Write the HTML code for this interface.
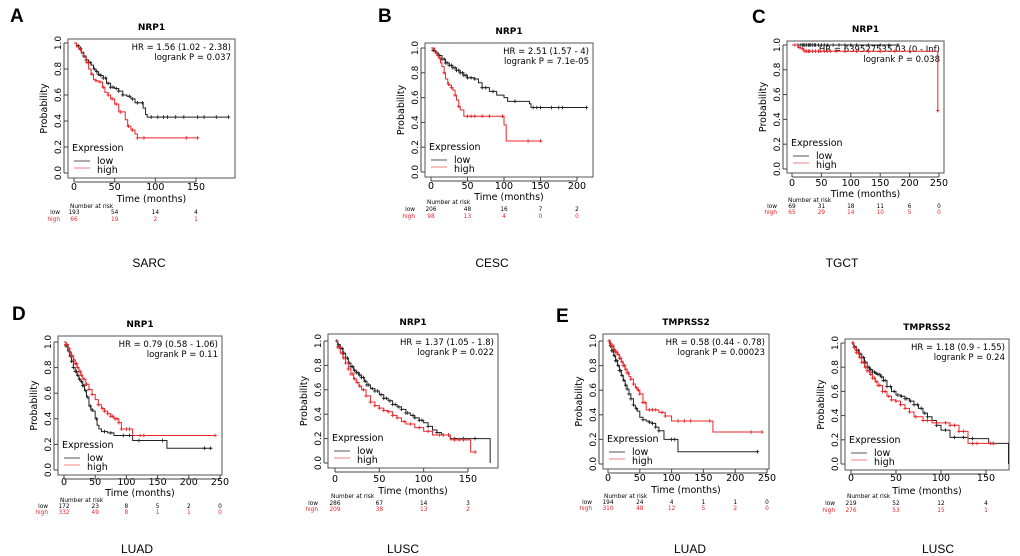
<!DOCTYPE html>
<html><head><meta charset="utf-8"><style>
html,body{margin:0;padding:0;background:#fff;}
svg{display:block;font-family:"DejaVu Sans","Liberation Sans",sans-serif;}
</style></head><body>
<svg id="fig" width="1020" height="556" viewBox="0 0 1020 556"></svg>
<script>
// ---- data ----
const xTicksA=[0,50,100,150], xTicksB=[0,50,100,150,200], xTicksC=[0,50,100,150,200,250];
const yTicks=[0,0.2,0.4,0.6,0.8,1.0];
// Panel A SARC
const aLowT=[0,3,6,9,12,15,18,21,24,27,30,33,36,40,45,50,55,60,65,70,75,80,85,88,90,190];
const aLowS=[1,.98,.96,.93,.9,.87,.85,.83,.8,.78,.76,.75,.73,.69,.66,.65,.63,.6,.59,.57,.54,.54,.5,.45,.43,.43];
const aLowC=[5,8,12,15,18,20,25,28,30,33,36,39,42,45,48,52,55,60,68,72,78,84,95,103,110,115,125,135,152,160,175,190];
const aHighT=[0,3,6,9,12,15,18,21,24,27,30,35,38,42,45,50,55,60,63,66,70,75,78,152];
const aHighS=[1,.97,.95,.92,.89,.85,.8,.76,.72,.71,.7,.66,.62,.6,.57,.53,.47,.47,.41,.36,.33,.3,.27,.27];
const aHighC=[8,16,22,27,32,36,42,47,52,57,67,72,78,86,138,152];
const aRiskLow=[193,54,14,4], aRiskHigh=[66,19,2,1];
// Panel B CESC
const bLowT=[0,3,6,10,15,20,25,30,35,40,45,50,55,60,65,70,80,90,100,105,120,135,137,213];
const bLowS=[1,.98,.96,.94,.91,.88,.86,.84,.82,.8,.78,.76,.76,.75,.72,.68,.65,.62,.6,.57,.57,.55,.52,.52];
const bLowC=[3,5,8,10,12,15,18,20,22,25,28,30,33,35,38,40,43,45,48,50,55,60,70,75,85,115,140,145,150,165,175,180,213];
const bHighT=[0,5,8,10,13,15,18,20,23,25,28,30,33,35,38,40,45,95,100,103,150];
const bHighS=[1,.97,.94,.92,.88,.85,.8,.75,.71,.7,.68,.66,.62,.58,.53,.5,.45,.45,.38,.25,.25];
const bHighC=[12,18,24,28,33,38,50,55,60,70,80,98,133,150];
const bRiskLow=[206,48,16,7,2], bRiskHigh=[98,13,4,0,0];
// Panel C TGCT
const cLowT=[0,180], cLowS=[1,1];
const cLowC=[10,15,18,20,22,25,28,30,32,35,38,40,45,50,55,60,70,80,90,100,110,130,150,165,180];
const cHighT=[0,10,15,20,232,248], cHighS=[1,.98,.97,.95,.95,.47];
const cHighC=[5,12,18,22,25,28,30,35,40,45,48,55,60,65,75,90,110,130,150,175,200,248];
const cRiskLow=[69,31,18,11,6,0], cRiskHigh=[65,29,14,10,5,0];
// Panel D NRP1 LUAD
const dLowT=[0,3,6,9,12,15,18,21,24,27,30,33,36,40,43,46,50,53,56,60,70,80,110,165,235];
const dLowS=[1,.97,.93,.89,.85,.8,.77,.74,.71,.69,.66,.62,.57,.5,.47,.46,.4,.35,.32,.3,.29,.27,.23,.17,.17];
const dLowC=[3,5,8,10,12,15,18,20,22,25,28,30,32,35,38,42,45,52,65,75,95,105,120,158,225,235];
const dHighT=[0,3,6,9,12,15,18,21,24,27,30,35,40,45,50,55,60,65,70,75,80,88,92,110,242];
const dHighS=[1,.98,.95,.92,.89,.86,.83,.8,.77,.74,.71,.67,.63,.59,.55,.51,.48,.46,.44,.42,.4,.37,.32,.27,.27];
const dHighC=[3,5,8,10,12,14,16,18,20,22,24,26,28,32,36,40,45,55,62,65,70,75,78,82,85,88,92,100,105,122,128,242];
const dRiskLow=[172,23,8,5,2,0], dRiskHigh=[332,49,8,1,1,0];
// Panel D NRP1 LUSC
const eLowT=[0,3,6,9,12,15,18,21,24,27,30,33,36,40,45,50,55,60,65,70,75,80,85,90,95,100,105,110,115,120,130,175];
const eLowS=[1,.97,.94,.9,.86,.82,.79,.76,.74,.72,.70,.67,.64,.61,.59,.56,.53,.51,.48,.46,.44,.41,.39,.37,.35,.33,.3,.27,.25,.23,.20,0];
const eLowC=[2,4,6,8,10,12,14,16,18,20,22,24,26,28,30,32,34,36,38,42,45,48,52,55,58,62,65,68,72,75,80,82,88,90,95,98,105,115,122,128,135,145,158];
const eHighT=[0,3,6,9,12,15,18,21,24,27,30,35,40,45,50,55,60,65,70,75,80,90,100,110,130,153,158];
const eHighS=[1,.95,.9,.86,.82,.77,.73,.69,.66,.63,.6,.55,.50,.47,.45,.43,.42,.39,.37,.34,.32,.29,.26,.23,.19,.09,.09];
const eHighC=[3,5,8,10,12,15,18,20,22,25,28,32,35,40,45,50,55,60,65,70,78,85,95,105,118,128,135,140,145,158];
const eRiskLow=[286,67,14,3], eRiskHigh=[209,38,13,2];
// Panel E TMPRSS2 LUAD
const fLowT=[0,3,6,9,12,15,18,21,24,27,30,33,36,40,43,46,50,55,60,65,70,75,80,88,110,235];
const fLowS=[1,.96,.92,.88,.84,.8,.76,.72,.68,.64,.61,.57,.53,.48,.45,.43,.38,.36,.35,.34,.33,.3,.27,.20,.10,.10];
const fLowC=[2,4,6,8,10,12,14,16,18,20,22,25,28,30,33,36,40,45,55,65,70,75,80,100,105,235];
const fHighT=[0,3,6,9,12,15,18,21,24,27,30,33,36,40,43,46,50,55,60,80,90,100,165,242];
const fHighS=[1,.98,.96,.93,.91,.89,.86,.83,.8,.77,.74,.71,.69,.65,.62,.6,.57,.5,.44,.42,.39,.35,.26,.26];
const fHighC=[2,4,6,8,10,12,14,16,18,20,22,24,26,28,30,32,36,40,45,48,50,55,58,65,70,75,85,90,110,120,130,160,225,242];
const fRiskLow=[194,24,4,1,1,0], fRiskHigh=[310,48,12,5,2,0];
// Panel E TMPRSS2 LUSC
const gLowT=[0,3,6,9,12,15,18,21,24,27,30,33,36,40,45,50,55,60,65,70,75,80,85,90,95,100,110,130,153,175];
const gLowS=[1,.97,.94,.91,.88,.84,.8,.78,.76,.75,.74,.72,.69,.64,.6,.57,.56,.54,.52,.49,.46,.42,.39,.36,.32,.28,.22,.21,.17,0];
const gLowC=[2,4,6,8,10,12,14,16,18,20,22,24,26,28,30,32,34,36,38,40,44,48,52,56,60,62,66,70,74,78,82,85,90,95,105,115,125,135,158];
const gHighT=[0,3,6,9,12,15,18,21,24,27,30,35,40,45,50,55,60,65,70,80,90,110,120,130,160];
const gHighS=[1,.96,.92,.88,.84,.8,.77,.74,.71,.68,.65,.6,.56,.53,.52,.49,.46,.43,.39,.36,.34,.32,.27,.17,.16];
const gHighC=[2,4,6,8,10,12,14,16,18,20,22,24,26,28,30,32,35,38,42,45,50,55,60,65,72,80,85,95,105,110,115,120,125,135,140,155];
const gRiskLow=[219,52,12,4], gRiskHigh=[276,53,15,1];

// ---- layout (not data) ----
const panels=[
 {id:'a',title:'NRP1',hr:'HR = 1.56 (1.02 - 2.38)',p:'logrank P = 0.037',box:[68,39,235,178],x0:74,xPer:(196-74)/150,y1:43,y0:173,xt:xTicksA,
  lT:aLowT,lS:aLowS,lC:aLowC,hT:aHighT,hS:aHighS,hC:aHighC,rl:aRiskLow,rh:aRiskHigh,rStep:50,tickY:190,timeY:202,riskY:[208,214,221],lowX:60},
 {id:'b',title:'NRP1',hr:'HR = 2.51 (1.57 - 4)',p:'logrank P = 7.1e-05',box:[425,43,593,177],x0:431,xPer:(577-431)/200,y1:48,y0:172,xt:xTicksB,
  lT:bLowT,lS:bLowS,lC:bLowC,hT:bHighT,hS:bHighS,hC:bHighC,rl:bRiskLow,rh:bRiskHigh,rStep:50,tickY:189,timeY:200,riskY:[204,211,218],lowX:415},
 {id:'c',title:'NRP1',hr:'HR = 639527535.03 (0 - Inf)',p:'logrank P = 0.038',box:[787,41,944,173],x0:792,xPer:(939-792)/250,y1:45,y0:169,xt:xTicksC,
  lT:cLowT,lS:cLowS,lC:cLowC,hT:cHighT,hS:cHighS,hC:cHighC,rl:cRiskLow,rh:cRiskHigh,rStep:50,tickY:186,timeY:197,riskY:[202,208,214],lowX:777},
 {id:'d',title:'NRP1',hr:'HR = 0.79 (0.58 - 1.06)',p:'logrank P = 0.11',box:[58,336,222,475],x0:64,xPer:(220-64)/250,y1:342,y0:470,xt:xTicksC,
  lT:dLowT,lS:dLowS,lC:dLowC,hT:dHighT,hS:dHighS,hC:dHighC,rl:dRiskLow,rh:dRiskHigh,rStep:50,tickY:485,timeY:496,riskY:[502,508,514],lowX:48},
 {id:'e',title:'NRP1',hr:'HR = 1.37 (1.05 - 1.8)',p:'logrank P = 0.022',box:[328,334,498,468],x0:335,xPer:(468-335)/150,y1:341,y0:463,xt:xTicksA,
  lT:eLowT,lS:eLowS,lC:eLowC,hT:eHighT,hS:eHighS,hC:eHighC,rl:eRiskLow,rh:eRiskHigh,rStep:50,tickY:482,timeY:494,riskY:[498,505,511],lowX:318},
 {id:'f',title:'TMPRSS2',hr:'HR = 0.58 (0.44 - 0.78)',p:'logrank P = 0.00023',box:[603,334,769,469],x0:608,xPer:(767-608)/250,y1:341,y0:464,xt:xTicksC,
  lT:fLowT,lS:fLowS,lC:fLowC,hT:fHighT,hS:fHighS,hC:fHighC,rl:fRiskLow,rh:fRiskHigh,rStep:50,tickY:481,timeY:493,riskY:[498,504,510],lowX:592},
 {id:'g',title:'TMPRSS2',hr:'HR = 1.18 (0.9 - 1.55)',p:'logrank P = 0.24',box:[845,339,1009,470],x0:851,xPer:(986-851)/150,y1:343,y0:464,xt:xTicksA,
  lT:gLowT,lS:gLowS,lC:gLowC,hT:gHighT,hS:gHighS,hC:gHighC,rl:gRiskLow,rh:gRiskHigh,rStep:50,tickY:481,timeY:494,riskY:[498,505,512],lowX:835}
];
const svg=document.getElementById('fig');
const NS='http://www.w3.org/2000/svg';
function mk(tag,attrs,parent,text){const e=document.createElementNS(NS,tag);for(const k in attrs)e.setAttribute(k,attrs[k]);if(text!==undefined)e.textContent=text;(parent||svg).appendChild(e);return e;}
function survAt(T,S,t){let s=S[0];for(let i=0;i<T.length;i++){if(T[i]<=t)s=S[i];}return s;}

panels.forEach(P=>{
  const g=mk('g',{});
  
  
  const xs=t=>P.x0+t*P.xPer, ys=v=>P.y0+(P.y1-P.y0)*v;
  const [L,T,R,B]=P.box, cx=(L+R)/2;
  const tt=mk('text',{x:cx,y:T-9,'text-anchor':'middle','font-size':9,'font-weight':'bold'},g,P.title);
  
  
  const bx=mk('rect',{x:L,y:T,width:R-L,height:B-T,fill:'none',stroke:'#555','stroke-width':1},g);
  
  
  yTicks.forEach(v=>{
    const y=ys(v);
    mk('line',{x1:L-4,x2:L,y1:y,y2:y,stroke:'#444'},g);
    const lb=mk('text',{x:L-7,y:y,'text-anchor':'middle','font-size':9,transform:`rotate(-90 ${L-7} ${y})`},g,v.toFixed(1));
    
    
  });
  mk('line',{x1:L-4,x2:L-4,y1:ys(0),y2:ys(1),stroke:'#444'},g);
  const yt=mk('text',{x:L-21,y:(T+B)/2,'text-anchor':'middle','font-size':9.5,transform:`rotate(-90 ${L-21} ${(T+B)/2})`},g,'Probability');
  
  
  P.xt.forEach(v=>{
    const x=xs(v);
    mk('line',{x1:x,x2:x,y1:B,y2:B+4,stroke:'#444'},g);
    const lb=mk('text',{x:x,y:P.tickY,'text-anchor':'middle','font-size':9.5},g,String(v));
    
    
  });
  mk('line',{x1:xs(P.xt[0]),x2:xs(P.xt[P.xt.length-1]),y1:B+4,y2:B+4,stroke:'#444'},g);
  const xt=mk('text',{x:cx,y:P.timeY,'text-anchor':'middle','font-size':9.5},g,'Time (months)');
  
  
  const h1=mk('text',{x:R-4,y:T+11,'text-anchor':'end','font-size':8.5},g,P.hr);
  
  
  const h2=mk('text',{x:R-4,y:T+21,'text-anchor':'end','font-size':8.5},g,P.p);
  
  
  [['low','#222',P.lT,P.lS,P.lC],['high','#e8262a',P.hT,P.hS,P.hC]].forEach(([nm,col,Ts,Ss,Cs])=>{
    let d=`M${xs(Ts[0])},${ys(Ss[0])}`;
    for(let i=1;i<Ts.length;i++){d+=` H${xs(Ts[i])} V${ys(Ss[i])}`;}
    const pth=mk('path',{d:d,fill:'none',stroke:col,'stroke-width':1},g);
    
    
    let cd='';
    Cs.forEach(t=>{const x=xs(t),y=ys(survAt(Ts,Ss,t));cd+=`M${x-1.8},${y}h3.6M${x},${y-1.8}v3.6`;});
    const cm=mk('path',{d:cd,stroke:col,'stroke-width':0.9,fill:'none'},g);
    
    
  });
  const lg=mk('g',{},g);
  
  
  mk('text',{x:L+4,y:B-27,'font-size':9.5},lg,'Expression');
  mk('line',{x1:L+6,x2:L+22,y1:B-17,y2:B-17,stroke:'#555'},lg);
  mk('line',{x1:L+6,x2:L+22,y1:B-10,y2:B-10,stroke:'#f08080'},lg);
  const le1=mk('text',{x:L+29,y:B-14,'font-size':9.5},lg,'low');
  
  
  const le2=mk('text',{x:L+29,y:B-5,'font-size':9.5},lg,'high');
  
  
  const rt=mk('g',{'font-size':5.8},g);
  
  
  mk('text',{x:xs(0)-4,y:P.riskY[0]},rt,'Number at risk');
  mk('text',{x:P.lowX,y:P.riskY[1],'text-anchor':'end'},rt,'low');
  mk('text',{x:P.lowX,y:P.riskY[2],'text-anchor':'end',fill:'#e8262a'},rt,'high');
  P.rl.forEach((v,i)=>mk('text',{x:xs(i*P.rStep),y:P.riskY[1],'text-anchor':'middle'},rt,String(v)));
  P.rh.forEach((v,i)=>mk('text',{x:xs(i*P.rStep),y:P.riskY[2],'text-anchor':'middle',fill:'#e8262a'},rt,String(v)));
});
[['A',10,22],['B',378,22],['C',752,23],['D',12,320],['E',556,322]].forEach(([t,x,y])=>{
  const e=mk('text',{x:x,y:y,'font-size':19,'font-weight':'bold','font-family':'Liberation Sans, sans-serif'},svg,t);
  
  
});
[['SARC',149,267],['CESC',492,267],['TGCT',842,267],['LUAD',137,553],['LUSC',403,553],['LUAD',690,553],['LUSC',938,553]].forEach(([t,x,y])=>{
  const e=mk('text',{x:x,y:y,'font-size':12,'text-anchor':'middle','font-family':'Liberation Sans, sans-serif'},svg,t);
  
  
});
</script>
</body></html>
